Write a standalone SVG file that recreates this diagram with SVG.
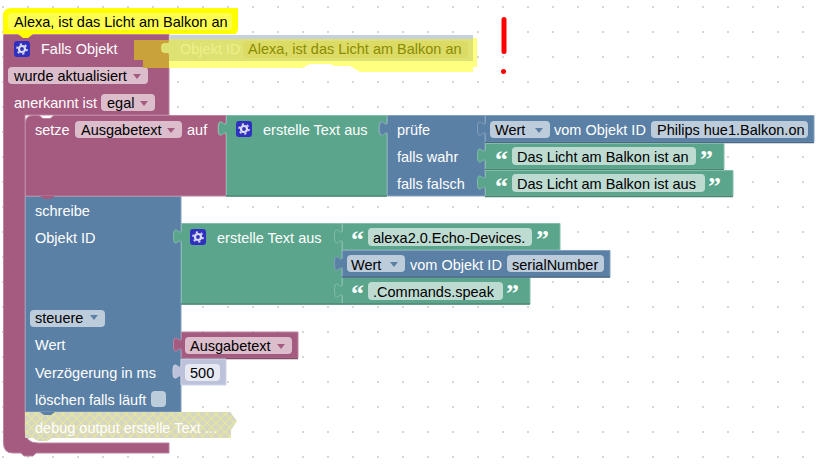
<svg xmlns="http://www.w3.org/2000/svg" width="817" height="464" viewBox="0 0 817 464">
<style>
text{font-family:"Liberation Sans",Arial,sans-serif;font-size:14.5px;fill:#000}
.w{fill:#fff}
text.q{font-family:"Liberation Serif",serif;font-size:26px;font-weight:bold;fill:#fff}
.pk{fill:#a55b80;stroke:#bd84a0;stroke-width:1}
.gn{fill:#5ba58c;stroke:#84bda9;stroke-width:1}
.bl{fill:#5b80a5;stroke:#84a0bd;stroke-width:1}
.e-pk{stroke:#844966;stroke-width:1.5;fill:none}
.e-gn{stroke:#498470;stroke-width:1.5;fill:none}
.e-bl{stroke:#496684;stroke-width:1.5;fill:none}
.f-pk{fill:#dbbdcc}
.f-gn{fill:#bddbd1}
.f-bl{fill:#bdccdb}
.a-pk{fill:#a55b80}
.a-bl{fill:#5b80a5}
.ic{fill:#3030c0}
.g{fill:none;stroke:#dcdcf0;stroke-width:2.2}
.t{fill:none;stroke:#dcdcf0;stroke-width:1.6;stroke-dasharray:2.2 2.98}
</style>
<defs>
<pattern id="dots" width="25" height="25" patternUnits="userSpaceOnUse" x="2" y="6"><rect width="2" height="2" fill="#d6d6d6"/></pattern>
<pattern id="hatch" width="9" height="9" patternUnits="userSpaceOnUse"><rect width="9" height="9" fill="#d6d6c4"/><path d="M0 0L9 9M9 0L0 9" stroke="#e8e89a" stroke-width="1.2"/></pattern>
<g id="gear"><rect width="16" height="16" rx="3" class="ic"/><circle cx="8" cy="8" r="3" class="g"/><circle cx="8" cy="8" r="5" class="t"/></g>
</defs>
<rect width="817" height="464" fill="#fff"/>
<rect width="817" height="464" fill="url(#dots)"/>

<g id="connectors"></g>

<g id="block-falls-objekt">
<path class="pk" d="M3.500 34.500H169V115H25V430Q25 443 38 443H169V453H36l-3 3h-9l-3-3H13Q3.500 453 3.500 443Z"/>
<use href="#gear" x="14" y="41"/>
<text class="w" x="41" y="54">Falls Objekt</text>
<rect class="f-pk" x="8" y="67" width="140" height="17" rx="4"/>
<text x="14" y="81">wurde aktualisiert</text>
<path class="a-pk" d="M133 74h8l-4 5z"/>
<text class="w" x="14" y="108">anerkannt ist</text>
<rect class="f-pk" x="101" y="94" width="54" height="17" rx="4"/>
<text x="107" y="108">egal</text>
<path class="a-pk" d="M140 101h8l-4 5z"/>
</g>

<g id="block-objekt-id">
<path d="M134 40H169V68H143V60H134Z" fill="#c9a33a"/>
<path d="M169 35H473V40H169Z" fill="#c6d1dc"/>
<path d="M169 39H473V38H477V67H473V72H360L350 66H335L330 64H310L302 68H169Z" fill="#ffff80"/>
<path d="M169 39H473V61H169V55c0-5-8 2-8-7s8-2 8-7Z" fill="#dee272"/>
<text x="180" y="54" style="fill:#eef08c">Objekt ID</text>
<rect x="243" y="41" width="225" height="17" rx="4" fill="#dbdb66"/>
<text x="248" y="54" style="fill:#8c8c00">Alexa, ist das Licht am Balkon an</text>
</g>

<g id="block-label">
<path d="M3 16Q3 8 11 8H238V30L236 34H33l-5 4h-5l-5-4H3Z" fill="#ffff00"/>
<rect x="8" y="13" width="224" height="17" rx="4" fill="#ffff50"/>
<text x="14" y="27">Alexa, ist das Licht am Balkon an</text>
</g>

<g id="block-schreibe">
<path class="bl" d="M25.500 196.500H181V412H25.500Z"/>
<text class="w" x="35" y="216">schreibe</text>
<text class="w" x="35" y="243">Objekt ID</text>
<rect class="f-bl" x="30" y="310" width="75" height="17" rx="4"/>
<text x="35" y="323">steuere</text>
<path class="a-bl" d="M90 315h8l-4 5z"/>
<text class="w" x="35" y="350">Wert</text>
<text class="w" x="35" y="378">Verzögerung in ms</text>
<text class="w" x="35" y="405">löschen falls läuft</text>
<rect class="f-bl" x="151" y="391" width="15" height="16" rx="4"/>
</g>

<g id="block-debug">
<path d="M25 412H231V413L237 421L231 430V438H52l-5 3h-9l-5-3H25Z" fill="url(#hatch)"/>
<path d="M40 412l4 3h7l4-3Z" fill="#5b80a5"/>
<text class="w" x="35" y="433">debug output erstelle Text ...</text>
</g>

<g id="block-setze">
<path class="pk" d="M25.500 123Q25.500 115.500 33 115.500H39l4 3h7l4-3H226V121c0 10-8-8-8 7.500s8-2.500 8 7.500V196H25.500Z"/>
<path d="M40 196l4 3h7l4-3Z" fill="#a55b80"/>
<text class="w" x="35" y="135">setze</text>
<rect class="f-pk" x="75" y="121" width="107" height="17" rx="4"/>
<text x="81" y="135">Ausgabetext</text>
<path class="a-pk" d="M167 128h8l-4 5z"/>
<text class="w" x="187" y="135">auf</text>
</g>

<g id="block-text-1">
<path class="gn" d="M226.500 115.500H387V121c0 10-8-8-8 7.500s8-2.500 8 7.500V196H226.500V136c0-10-8 8-8-7.500s8 2.500 8-7.500Z"/>
<path class="e-gn" d="M226 196H387"/>
<use href="#gear" x="236" y="121"/>
<text class="w" x="263" y="135">erstelle Text aus</text>
</g>

<g id="block-pruefe">
<path class="bl" d="M387.500 115.500H485V196H387.500V136c0-10-8 8-8-7.500s8 2.500 8-7.500Z"/>
<text class="w" x="397" y="135">prüfe</text>
<text class="w" x="397" y="162">falls wahr</text>
<text class="w" x="397" y="189">falls falsch</text>
</g>

<g id="block-wert-1">
<path class="bl" d="M485.500 115.500H814V142H485.500V136c0-10-8 8-8-7.500s8 2.500 8-7.500Z"/>
<path class="e-bl" d="M485 142.500H814"/>
<rect class="f-bl" x="490" y="121" width="60" height="17" rx="4"/>
<text x="495" y="135">Wert</text>
<path class="a-bl" d="M535 128h8l-4 5z"/>
<text class="w" x="554" y="135">vom Objekt ID</text>
<rect class="f-bl" x="651" y="121" width="157" height="17" rx="4"/>
<text x="657" y="135">Philips hue1.Balkon.on</text>
</g>

<g id="block-wahr">
<path class="gn" d="M485.500 143.500H724V169H485.500V163c0-10-8 8-8-7.500s8 2.500 8-7.500Z"/>
<path class="e-gn" d="M485 169.500H724"/>
<text class="q" x="495" y="168">“</text>
<rect class="f-gn" x="512" y="147" width="184" height="18" rx="4"/>
<text x="517" y="162">Das Licht am Balkon ist an</text>
<text class="q" x="700" y="168">”</text>
</g>

<g id="block-falsch">
<path class="gn" d="M485.500 170.500H733V196H485.500V190c0-10-8 8-8-7.500s8 2.500 8-7.500Z"/>
<path class="e-gn" d="M485 196.500H733"/>
<text class="q" x="495" y="195">“</text>
<rect class="f-gn" x="512" y="174" width="193" height="18" rx="4"/>
<text x="517" y="189">Das Licht am Balkon ist aus</text>
<text class="q" x="708" y="195">”</text>
</g>

<g id="block-text-2">
<path class="gn" d="M181.500 223.500H342V304H181.500V244c0-10-8 8-8-7.500s8 2.500 8-7.500Z"/>
<path class="e-gn" d="M181 304H342"/>
<use href="#gear" x="190" y="229"/>
<text class="w" x="217" y="243">erstelle Text aus</text>
</g>

<g id="block-echo">
<path class="gn" d="M342.500 223.500H560V250H342.500V244c0-10-8 8-8-7.500s8 2.500 8-7.500Z"/>
<text class="q" x="351" y="248">“</text>
<rect class="f-gn" x="368" y="228" width="164" height="18" rx="4"/>
<text x="373" y="243">alexa2.0.Echo-Devices.</text>
<text class="q" x="536" y="248">”</text>
</g>

<g id="block-commands">
<path class="gn" d="M342.500 277.500H530V304H342.500V298c0-10-8 8-8-7.500s8 2.500 8-7.500Z"/>
<path class="e-gn" d="M342 304H530"/>
<text class="q" x="351" y="302">“</text>
<rect class="f-gn" x="368" y="282" width="135" height="18" rx="4"/>
<text x="373" y="297">.Commands.speak</text>
<text class="q" x="506" y="302">”</text>
</g>

<g id="block-wert-2">
<path class="bl" d="M342.500 250.500H610V277H342.500V271c0-10-8 8-8-7.500s8 2.500 8-7.500Z"/>
<path class="e-bl" d="M342 277H610"/>
<rect class="f-bl" x="347" y="255" width="58" height="17" rx="4"/>
<text x="351" y="270">Wert</text>
<path class="a-bl" d="M390 262h8l-4 5z"/>
<text class="w" x="410" y="270">vom Objekt ID</text>
<rect class="f-bl" x="507" y="255" width="97" height="17" rx="4"/>
<text x="512" y="270">serialNumber</text>
</g>

<g id="block-ausgabetext">
<path class="pk" d="M181.500 332H298V358H181.500V352c0-10-8 8-8-7.500s8 2.500 8-7.500Z"/>
<path class="e-pk" d="M181 358.500H298"/>
<rect class="f-pk" x="185" y="337" width="107" height="17" rx="4"/>
<text x="190" y="351">Ausgabetext</text>
<path class="a-pk" d="M277 344h8l-4 5z"/>
</g>

<g id="block-500">
<path d="M181 359H226V385H181V379c0-10-8 8-8-7.500s8 2.500 8-7.500Z" fill="#bdc2db" stroke="#d0d4e6"/>
<rect x="185" y="364" width="35" height="17" rx="4" fill="#e6e8f2"/>
<text x="190" y="378">500</text>
</g>

<g id="mark" fill="#ff0000">
<rect x="501.500" y="17" width="5" height="37" rx="2.500"/>
<circle cx="503.500" cy="71.500" r="2.500"/>
</g>
</svg>
